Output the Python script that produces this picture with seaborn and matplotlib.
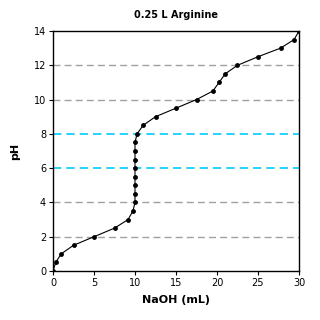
import matplotlib
matplotlib.use('Agg')
import matplotlib.pyplot as plt
import seaborn as sns
import pandas as pd

naoh_ml = [0, 0.33, 1.0, 2.5, 5.0, 7.5, 9.15, 9.75, 10.0, 10.0, 10.0, 10.0, 10.0, 10.0, 10.0, 10.0,
           10.25, 11.0, 12.5, 15.0, 17.5, 19.5, 20.25, 21.0, 22.5, 25.0, 27.75, 29.4, 30.0]
ph = [0, 0.5, 1.0, 1.5, 2.0, 2.5, 3.0, 3.5, 4.0, 4.5, 5.0, 5.5, 6.0, 6.5, 7.0, 7.5,
      8.0, 8.5, 9.0, 9.5, 10.0, 10.5, 11.0, 11.5, 12.0, 12.5, 13.0, 13.5, 14.0]

grid_gray = [2, 4, 10, 12]
grid_cyan = [6, 8]

df = pd.DataFrame({'NaOH': naoh_ml, 'pH': ph})

sns.set_style('ticks')
plt.rcParams['font.family'] = ['DejaVu Sans']
plt.rcParams['text.color'] = 'black'
plt.rcParams['axes.labelcolor'] = 'black'
plt.rcParams['xtick.color'] = 'black'
plt.rcParams['ytick.color'] = 'black'

fig = plt.figure(figsize=(3.2, 3.2), dpi=100)
ax = fig.add_axes([53 / 320, 1 - 271 / 320, 246 / 320, 240 / 320])

for y in grid_gray:
    ax.axhline(y, color='#a0a0a0', lw=1, dashes=(5, 3), zorder=1)
for y in grid_cyan:
    ax.axhline(y, color='#00ccff', lw=1.2, dashes=(5, 3), zorder=1)

sns.lineplot(data=df, x='NaOH', y='pH', sort=False, estimator=None, color='black', lw=0.8,
             marker='o', markersize=3.5, markeredgewidth=0, ax=ax, zorder=3)

ax.set_xlim(0, 30)
ax.set_ylim(0, 14)
ax.set_xticks(range(0, 31, 5))
ax.set_yticks(range(0, 15, 2))
ax.tick_params(labelsize=7, length=3, width=0.8, color='black', pad=2)
for s in ax.spines.values():
    s.set_color('black')
    s.set_linewidth(1)
    s.set_visible(True)

ax.set_title('0.25 L Arginine', fontsize=7, fontweight='bold', pad=9)
ax.set_xlabel('NaOH (mL)', fontsize=8, fontweight='bold', labelpad=5)
ax.set_ylabel('pH', fontsize=8, fontweight='bold', labelpad=10)

fig.savefig('out.png', dpi=100)
